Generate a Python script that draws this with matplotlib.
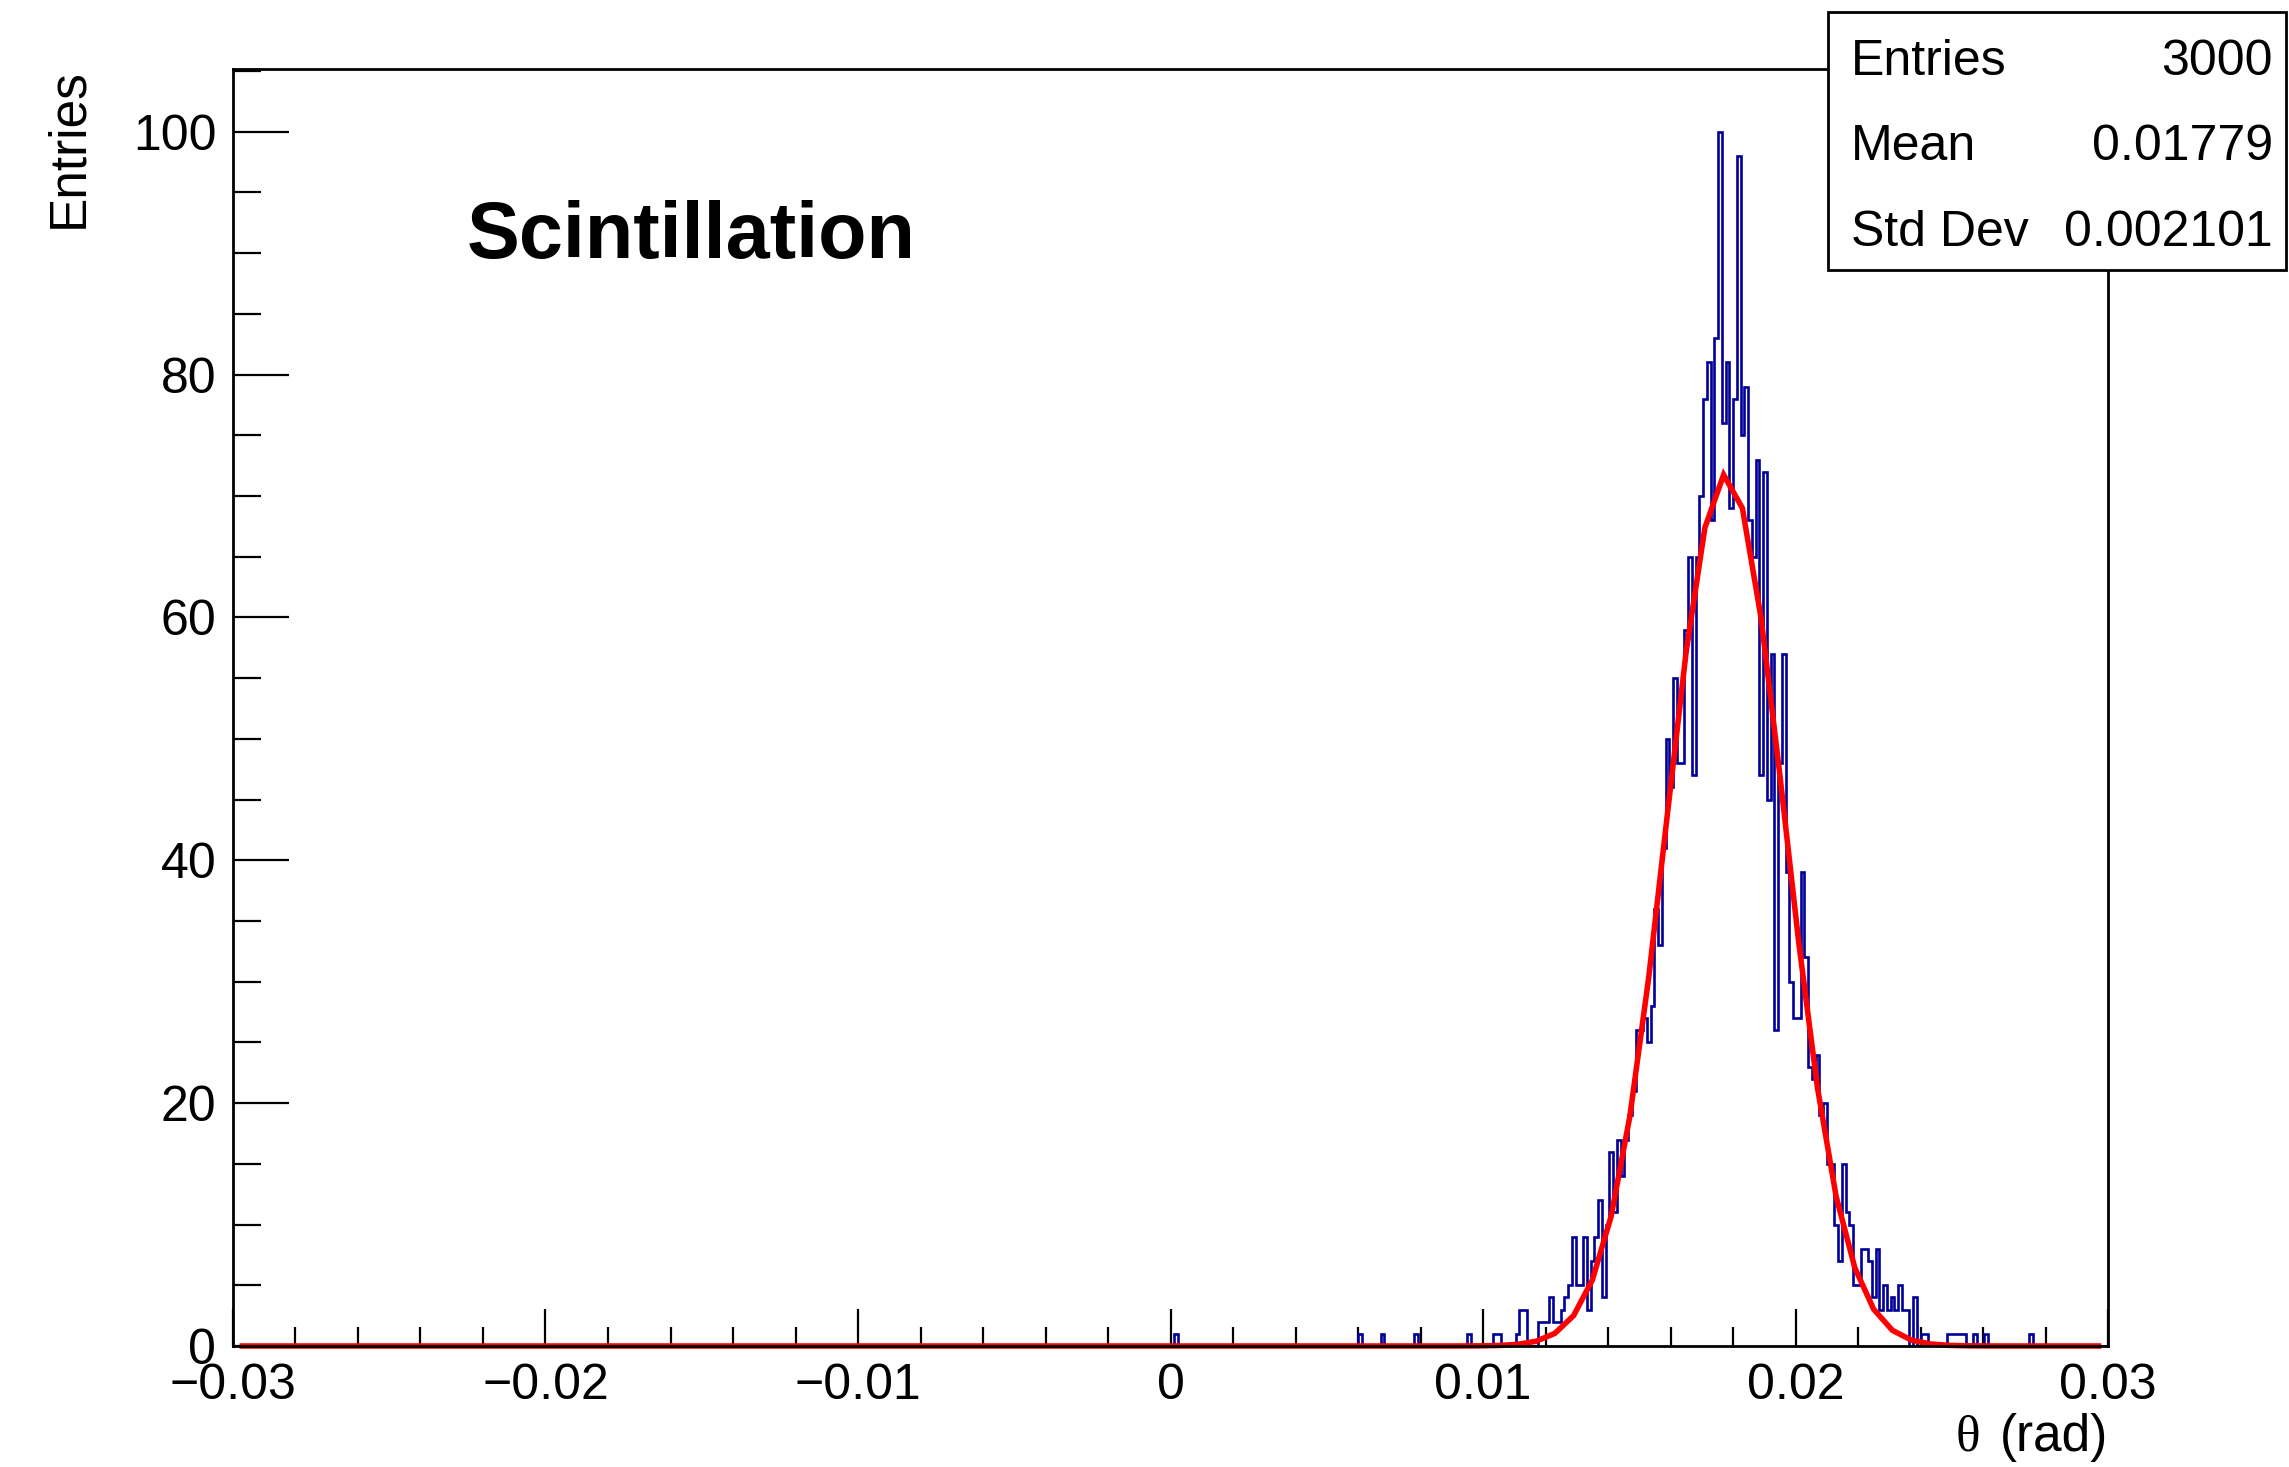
import matplotlib
matplotlib.use("Agg")
import matplotlib.pyplot as plt
import numpy as np
from matplotlib.patches import Rectangle
from matplotlib.ticker import FixedLocator, MultipleLocator

# ---- histogram definition (500 bins on [-0.03, 0.03]) ----
N_BINS = 500
X_MIN, X_MAX = -0.03, 0.03

# isolated entries in the left tail: bin index -> entries
left_tail_bins = [251, 300, 306, 315, 329, 336, 337, 342, 343, 344,
                  348, 349, 350, 351, 352, 353]
left_tail_counts = [1, 1, 1, 1, 1, 1, 1, 1, 3, 3,
                    2, 2, 2, 4, 2, 2]

# contiguous core of the distribution, starting at bin 354
core_first_bin = 354
core_counts = [3, 4, 5, 9, 5, 5, 9, 3, 7, 9,            # 354-363
               12, 4, 10, 16, 11, 17, 14, 17, 19, 21,   # 364-373
               26, 26, 27, 25, 28, 36, 33, 41, 50, 46,  # 374-383
               55, 48, 48, 59, 65, 47, 65, 70, 78, 81,  # 384-393
               68, 83, 100, 76, 81, 69, 78, 98, 75, 79, # 394-403
               68, 65, 73, 47, 72, 45, 57, 26, 48, 57,  # 404-413
               39, 30, 27, 27, 39, 32, 23, 22, 24, 19,  # 414-423
               20, 15, 15, 10, 7, 15, 11, 10]           # 424-431

# right tail
right_tail_bins = [432, 433, 434, 435, 436, 437, 438, 439, 440, 441,
                   442, 443, 444, 445, 446, 448, 450, 451, 457, 458,
                   459, 460, 461, 464, 467, 479]
right_tail_counts = [5, 5, 8, 8, 7, 4, 8, 3, 5, 3,
                     4, 3, 5, 3, 3, 4, 1, 1, 1, 1,
                     1, 1, 1, 1, 1, 1]

# gaussian fit drawn by ROOT
fit_constant = 71.8
fit_mean = 0.01777
fit_sigma = 0.00188
FIT_NPX = 100

# stats box
stat_labels = ["Entries", "Mean", "Std Dev"]
stat_values = ["3000", "0.01779", "0.002101"]

x_ticks = [-0.03, -0.02, -0.01, 0.0, 0.01, 0.02, 0.03]
x_tick_labels = ["\u22120.03", "\u22120.02", "\u22120.01", "0", "0.01", "0.02", "0.03"]
y_ticks = [0, 20, 40, 60, 80, 100]

plt.rcParams['font.family'] = ['Liberation Sans', 'DejaVu Sans']

# fill the full bin array
counts = np.zeros(N_BINS)
counts[left_tail_bins] = left_tail_counts
counts[core_first_bin:core_first_bin + len(core_counts)] = core_counts
counts[right_tail_bins] = right_tail_counts
edges = np.linspace(X_MIN, X_MAX, N_BINS + 1)

W, H = 2289, 1467
fig = plt.figure(figsize=(W / 100, H / 100), dpi=100)
ax_l, ax_r, ax_t, ax_b = 233, 2108, 68.6, 1346
ax = fig.add_axes([ax_l / W, 1 - ax_b / H, (ax_r - ax_l) / W, (ax_b - ax_t) / H])

ax.stairs(counts, edges, color="#000099", linewidth=1.9, baseline=0, zorder=3)

# fit curve evaluated at the centres of FIT_NPX bins, like TF1::Paint
fx = X_MIN + (np.arange(FIT_NPX) + 0.5) * (X_MAX - X_MIN) / FIT_NPX
fy = fit_constant * np.exp(-0.5 * ((fx - fit_mean) / fit_sigma) ** 2)
ax.plot(fx, fy, color="#ff0000", linewidth=4.0, zorder=4, clip_on=False,
        solid_joinstyle="miter")

ax.set_xlim(X_MIN, X_MAX)
ax.set_ylim(0, 105.2)

ax.xaxis.set_major_locator(FixedLocator(x_ticks))
ax.set_xticklabels(x_tick_labels)
ax.xaxis.set_minor_locator(MultipleLocator(0.002))
ax.yaxis.set_major_locator(FixedLocator(y_ticks))
ax.yaxis.set_minor_locator(MultipleLocator(5))

ax.tick_params(axis="both", which="both", direction="in", top=False, right=False,
               colors="black", width=1.6)
ax.tick_params(axis="x", which="major", length=27, pad=12, labelsize=36)
ax.tick_params(axis="x", which="minor", length=13.5)
ax.tick_params(axis="y", which="major", length=40, pad=12, labelsize=36)
ax.tick_params(axis="y", which="minor", length=20)

for sp in ax.spines.values():
    sp.set_linewidth(2)
    sp.set_zorder(5)

# axis titles (ROOT places them at the far end of the axis)
fig.text(69 / W, 1 - ax_t / H, "Entries", rotation=90, ha="center", va="top",
         fontsize=37)
fig.text(ax_r / W, 1 - 1438 / H, "(rad)", ha="right", va="center", fontsize=37)
fig.text(1980 / W, 1 - 1438 / H, "\u03b8", ha="right", va="center", fontsize=37,
         family=["Liberation Serif", "DejaVu Serif"])

fig.text(467 / W, 1 - 258 / H, "Scintillation", ha="left", va="baseline",
         fontsize=57, fontweight="bold")

# stats box drawn on top of the frame
box_l, box_r, box_t, box_b = 1828, 2286, 12, 270
fig.patches.append(Rectangle((box_l / W, 1 - box_b / H), (box_r - box_l) / W,
                             (box_b - box_t) / H, transform=fig.transFigure,
                             facecolor="white", edgecolor="black", linewidth=2,
                             zorder=10))
row_y = [62, 147, 233]
for lab, val, ry in zip(stat_labels, stat_values, row_y):
    fig.text(1851 / W, 1 - ry / H, lab, ha="left", va="center", fontsize=36, zorder=11)
    fig.text(2273 / W, 1 - ry / H, val, ha="right", va="center", fontsize=36, zorder=11)

fig.savefig("out.png", dpi=100, facecolor="white")
